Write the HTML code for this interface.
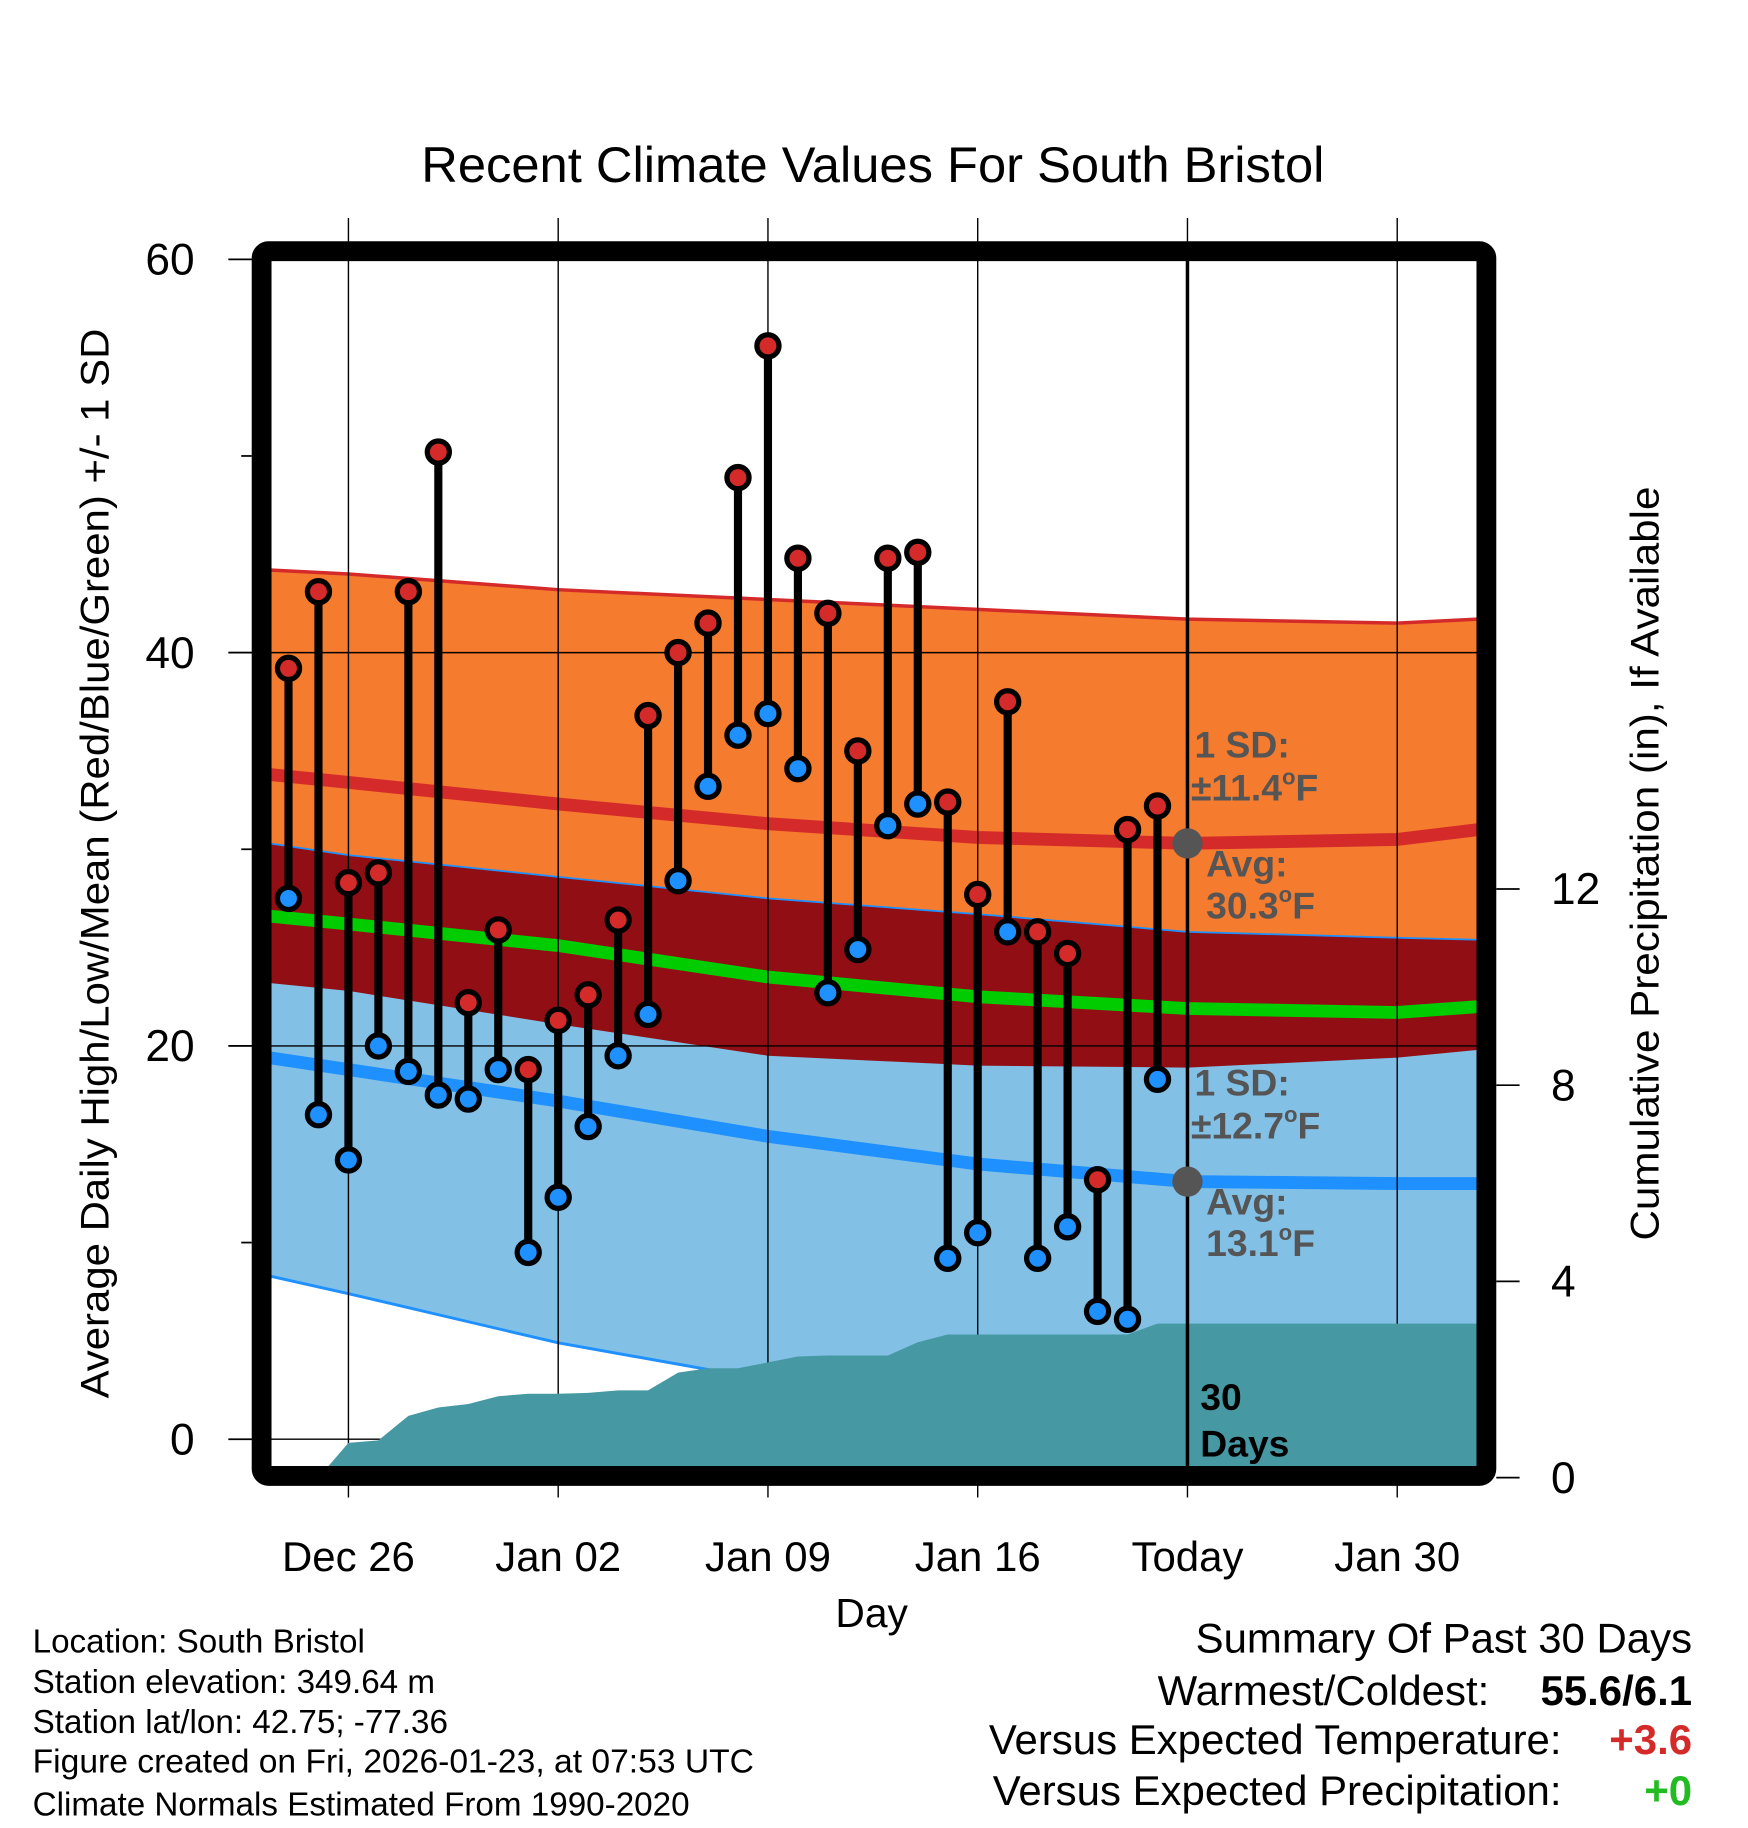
<!DOCTYPE html>
<html><head><meta charset="utf-8"><style>
html,body{margin:0;padding:0;background:#fff}
svg{display:block}
text{font-family:"Liberation Sans",Arial,sans-serif}
</style></head><body>
<svg id="chart" xmlns="http://www.w3.org/2000/svg" width="1748" height="1828" viewBox="0 0 1500 1568.6">
<defs><clipPath id="plotclip"><rect x="231" y="223" width="1037" height="1037"/></clipPath></defs>
<rect width="1500" height="1568.6" fill="#fff"/>
<g id="bands" clip-path="url(#plotclip)"></g>
<g id="grid"></g>
<g id="precip" clip-path="url(#plotclip)"></g>
<g id="marks"></g>
<rect x="224.5" y="215.5" width="1051" height="1051" rx="6" fill="none" stroke="#000" stroke-width="17"/>
<g id="axes"></g>
<text x="749" y="156" font-size="43" text-anchor="middle" textLength="775" lengthAdjust="spacingAndGlyphs">Recent Climate Values For South Bristol</text>
<text transform="translate(93,741) rotate(-90)" font-size="34" text-anchor="middle" textLength="918" lengthAdjust="spacingAndGlyphs">Average Daily High/Low/Mean (Red/Blue/Green) +/- 1 SD</text>
<text transform="translate(1423,741) rotate(-90)" font-size="34" text-anchor="middle" textLength="647" lengthAdjust="spacingAndGlyphs">Cumulative Precipitation (in), If Available</text>
<text x="748" y="1396" font-size="35" text-anchor="middle">Day</text>
<g font-weight="bold" font-size="32" fill="#555">
<text x="1025" y="650">1 SD:</text>
<text x="1022" y="687">±11.4<tspan font-size="19" dy="-14">o</tspan><tspan dy="14">F</tspan></text>
<text x="1035" y="752">Avg:</text>
<text x="1035" y="788">30.3<tspan font-size="19" dy="-14">o</tspan><tspan dy="14">F</tspan></text>
<text x="1025" y="940">1 SD:</text>
<text x="1022" y="977">±12.7<tspan font-size="19" dy="-14">o</tspan><tspan dy="14">F</tspan></text>
<text x="1035" y="1042">Avg:</text>
<text x="1035" y="1078">13.1<tspan font-size="19" dy="-14">o</tspan><tspan dy="14">F</tspan></text>
<text x="1030" y="1210" fill="#000">30</text>
<text x="1030" y="1250" fill="#000">Days</text>
</g>
<g font-size="28.5">
<text x="28" y="1418">Location: South Bristol</text>
<text x="28" y="1453">Station elevation: 349.64 m</text>
<text x="28" y="1487">Station lat/lon: 42.75; -77.36</text>
<text x="28" y="1521" textLength="619" lengthAdjust="spacingAndGlyphs">Figure created on Fri, 2026-01-23, at 07:53 UTC</text>
<text x="28" y="1558">Climate Normals Estimated From 1990-2020</text>
</g>
<g font-size="36">
<text x="1452" y="1418" text-anchor="end">Summary Of Past 30 Days</text>
<text x="1278" y="1463" text-anchor="end">Warmest/Coldest:</text>
<text x="1452" y="1463" text-anchor="end" font-weight="bold">55.6/6.1</text>
<text x="1340" y="1505" text-anchor="end">Versus Expected Temperature:</text>
<text x="1452" y="1505" text-anchor="end" font-weight="bold" fill="#d42a2a">+3.6</text>
<text x="1340" y="1549" text-anchor="end">Versus Expected Precipitation:</text>
<text x="1452" y="1549" text-anchor="end" font-weight="bold" fill="#22bb22">+0</text>
</g>
</svg>
<script>
// normals sample days (offset from Dec 26)
const normDays = [-2.64, 0, 7, 14, 21, 28, 35, 37.7];
const highUpper = [44.2, 44.0, 43.2, 42.7, 42.2, 41.7, 41.5, 41.7];
const highMean = [33.8, 33.4, 32.3, 31.3, 30.6, 30.3, 30.5, 31.0];
const highLower = [23.2, 22.8, 21.1, 19.5, 19.0, 18.9, 19.4, 19.8];
const meanLine = [26.6, 26.2, 25.1, 23.5, 22.5, 21.9, 21.7, 22.0];
const lowUpper = [30.3, 29.7, 28.6, 27.5, 26.7, 25.8, 25.5, 25.4];
const lowMean = [19.4, 18.8, 17.2, 15.4, 14.0, 13.1, 13.0, 13.0];
const lowLower = [8.3, 7.4, 4.9, 3.0, 1.8, 0.4, 0.2, 0.3];
// observed days Dec24..Jan22 (offset from Dec 26)
const obsDays = [-2,-1,0,1,2,3,4,5,6,7,8,9,10,11,12,13,14,15,16,17,18,19,20,21,22,23,24,25,26,27];
const highs = [39.2,43.1,28.3,28.8,43.1,50.2,22.2,25.9,18.8,21.3,22.6,26.4,36.8,40.0,41.5,48.9,55.6,44.8,42.0,35.0,44.8,45.1,32.4,27.7,37.5,25.8,24.7,13.2,31.0,32.2];
const lows = [27.5,16.5,14.2,20.0,18.7,17.5,17.3,18.8,9.5,12.3,15.9,19.5,21.6,28.4,33.2,35.8,36.9,34.1,22.7,24.9,31.2,32.3,9.2,10.5,25.8,9.2,10.8,6.5,6.1,18.3];
const precip = [0,0,0.71,0.76,1.26,1.43,1.50,1.66,1.71,1.71,1.73,1.78,1.78,2.14,2.23,2.23,2.35,2.47,2.49,2.49,2.49,2.76,2.92,2.92,2.92,2.92,2.92,2.92,2.92,3.14];
const xTickDays = [0,7,14,21,28,35];
const xTickLabels = ["Dec 26","Jan 02","Jan 09","Jan 16","Today","Jan 30"];
const yTicks = [0,20,40,60];
const yMinor = [10,30,50];
const pTicks = [0,4,8,12];
const todayDay = 28;
const todayHighAvg = 30.3, todayLowAvg = 13.1;

const X = d => 299 + d * 25.714;
const Y = v => 1235 - v * 16.875;
const YP = p => 1268 - p * 42.1;
const NS = "http://www.w3.org/2000/svg";
function mk(tag, attrs, parent){const e=document.createElementNS(NS,tag);for(const k in attrs)e.setAttribute(k,attrs[k]);parent.appendChild(e);return e;}
const pts = arr => normDays.map((d,i)=>X(d).toFixed(1)+","+Y(arr[i]).toFixed(1));
const band = (a,b) => pts(a).concat(pts(b).reverse()).join(" ");

const bands = document.getElementById("bands");
let e;
e = mk("polygon",{points:band(highUpper,highLower),fill:"#f57b2e"},bands);


e = mk("polygon",{points:band(lowUpper,lowLower),fill:"#82c0e6"},bands);


e = mk("polygon",{points:band(lowUpper,highLower),fill:"#910e14"},bands);


e = mk("polyline",{points:pts(highUpper).join(" "),fill:"none",stroke:"#d42a2a","stroke-width":3},bands);


e = mk("polyline",{points:pts(lowUpper).join(" "),fill:"none",stroke:"#1e90ff","stroke-width":1.5},bands);


e = mk("polyline",{points:pts(lowLower).join(" "),fill:"none",stroke:"#1e90ff","stroke-width":2.5},bands);


e = mk("polyline",{points:pts(highMean).join(" "),fill:"none",stroke:"#d42a2a","stroke-width":11},bands);


e = mk("polyline",{points:pts(meanLine).join(" "),fill:"none",stroke:"#00cc00","stroke-width":11},bands);


e = mk("polyline",{points:pts(lowMean).join(" "),fill:"none",stroke:"#1e90ff","stroke-width":11},bands);



const grid = document.getElementById("grid");
xTickDays.forEach(d=>{
  const g = mk("line",{x1:X(d),x2:X(d),y1:187,y2:1285,stroke:"#000","stroke-width":1.2},grid);
  
  
});
yTicks.forEach(v=>{
  const g = mk("line",{x1:196,x2:1268,y1:Y(v),y2:Y(v),stroke:"#000","stroke-width":1.2},grid);
  
  
});

const pg = document.getElementById("precip");
let pp = precip.map((p,i)=>X(obsDays[i]).toFixed(1)+","+YP(p).toFixed(1));
pp.push("1270,"+YP(precip[precip.length-1]).toFixed(1));
pp.push("1270,1270");
pp.push(X(obsDays[1]).toFixed(1)+",1270");
e = mk("polygon",{points:pp.join(" "),fill:"#4699a2"},pg);



const mg = document.getElementById("marks");
e = mk("line",{x1:X(todayDay),x2:X(todayDay),y1:222,y2:1262,stroke:"#000","stroke-width":3},mg);


e = mk("circle",{cx:X(todayDay),cy:Y(todayHighAvg),r:13,fill:"#555"},mg);


e = mk("circle",{cx:X(todayDay),cy:Y(todayLowAvg),r:13,fill:"#555"},mg);


obsDays.forEach((d,i)=>{
  const l = mk("line",{x1:X(d),x2:X(d),y1:Y(highs[i]),y2:Y(lows[i]),stroke:"#000","stroke-width":7},mg);
  
  
});
obsDays.forEach((d,i)=>{
  const h = mk("circle",{cx:X(d),cy:Y(highs[i]),r:9.5,fill:"#d42a2a",stroke:"#000","stroke-width":4.5},mg);
  
  
  const lo = mk("circle",{cx:X(d),cy:Y(lows[i]),r:9.5,fill:"#1e90ff",stroke:"#000","stroke-width":4.5},mg);
  
  
});

const ax = document.getElementById("axes");
yTicks.forEach(v=>{
  const t = mk("line",{x1:196,x2:216,y1:Y(v),y2:Y(v),stroke:"#000","stroke-width":1.5},ax);
  
  
  const tx = mk("text",{x:167,y:Y(v)+13,"font-size":38,"text-anchor":"end"},ax);
  tx.textContent = v;
  
  
});
yMinor.forEach(v=>{
  const t = mk("line",{x1:207,x2:216,y1:Y(v),y2:Y(v),stroke:"#000","stroke-width":1.5},ax);
  
  
});
pTicks.forEach(p=>{
  const t = mk("line",{x1:1284,x2:1304,y1:YP(p),y2:YP(p),stroke:"#000","stroke-width":1.5},ax);
  
  
  const tx = mk("text",{x:1331,y:YP(p)+13,"font-size":38},ax);
  tx.textContent = p;
  
  
});
xTickDays.forEach((d,i)=>{
  const tx = mk("text",{x:X(d),y:1348,"font-size":36,"text-anchor":"middle"},ax);
  tx.textContent = xTickLabels[i];
  
  
});
</script>
</body></html>
